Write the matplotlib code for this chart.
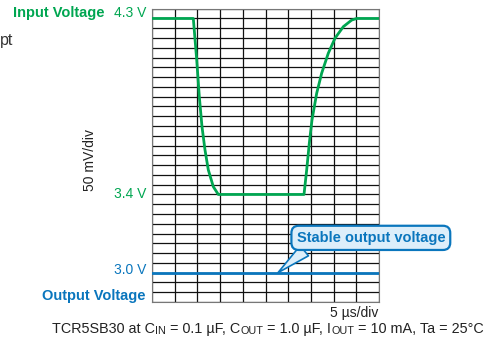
import numpy as np
import matplotlib
matplotlib.use("Agg")
import matplotlib.pyplot as plt
from matplotlib.transforms import blended_transform_factory

plt.rcParams['font.family'] = ['Liberation Sans', 'DejaVu Sans']

# waveform (time in us, voltage in V)
t_in = [0, 9.1, 9.85, 10.42, 11.01, 11.67, 12.40, 13.50, 14.60,
        33.48, 34.07, 34.65, 35.24, 36.27, 37.37, 38.83, 40.31, 42.14, 43.99, 45.1, 50]
v_in = [4.30, 4.30, 4.088, 3.90, 3.747, 3.628, 3.526, 3.44, 3.40,
        3.40, 3.525, 3.662, 3.781, 3.917, 4.02, 4.122, 4.199, 4.258, 4.292, 4.30, 4.30]
t_out = [0, 50]
v_out = [3.0, 3.0]

level_labels = ['4.3 V', '3.4 V', '3.0 V']

GREEN = '#00a651'
BLUE = '#0a76bd'
DARK = '#222222'

fig = plt.figure(figsize=(4.96, 3.38), dpi=100)
ax = fig.add_axes([152/496, 36/338, 227/496, 293.3/338])

ax.plot(t_in, v_in, color=GREEN, lw=2.0, solid_joinstyle='round', zorder=3)
ax.plot(t_out, v_out, color=BLUE, lw=2.0, zorder=3)

ax.set_xlim(0, 50)
ax.set_ylim(2.85, 4.35)
ax.set_xticks(np.arange(0, 50.1, 5))
ax.set_yticks(np.arange(2.85, 4.351, 0.05))
ax.grid(True, color='#111111', lw=0.9)
ax.tick_params(length=0, labelbottom=False, labelleft=False)
for s in ax.spines.values():
    s.set_color('#777777')
    s.set_linewidth(0.8)

# level labels to the left of the grid
tr = blended_transform_factory(ax.transAxes, ax.transData)
lab_colors = [GREEN, GREEN, BLUE]
lab_y = [4.326, 3.4, 3.014]
for y, txt, c in zip(lab_y, level_labels, lab_colors):
    ax.text(-0.026, y, txt, transform=tr, ha='right', va='center', color=c, fontsize=10)
ax.text(-0.21, 4.326, 'Input Voltage', transform=tr, ha='right', va='center',
        color=GREEN, fontsize=10.5, fontweight='bold')
ax.text(-0.03, 2.881, 'Output Voltage', transform=tr, ha='right', va='center',
        color=BLUE, fontsize=10.5, fontweight='bold')

ax.text(-0.272, 0.484, '50 mV/div', transform=ax.transAxes, rotation=90,
        ha='center', va='center', fontsize=10, color=DARK)

# callout
ax.annotate('Stable output voltage', xy=(27.75, 3.0), xytext=(48.2, 3.178),
            ha='center', va='center', color=BLUE, fontsize=10.5, fontweight='bold',
            annotation_clip=False, zorder=5,
            bbox=dict(boxstyle='round,pad=0.35,rounding_size=0.5', fc='#dceefa',
                      ec=BLUE, lw=1.6),
            arrowprops=dict(arrowstyle='wedge,tail_width=0.9,shrink_factor=0.5',
                            fc='#dceefa', ec=BLUE, lw=1.2, relpos=(0.1, 0.0),
                            shrinkA=0, shrinkB=0))

fig.text(378/496, 1 - 313/338, '5 \u00b5s/div', ha='right', va='center',
         fontsize=10, color=DARK)

fig.text(0, 1 - 41/338, 'pt', ha='left', va='center', fontsize=11.5, color='#333333')

# footer line, subscripts drawn as smaller caps
pieces = [('TCR5SB30 at C', 10.4), ('IN', 7.8), (' = 0.1 \u00b5F, C', 10.4), ('OUT', 7.8),
          (' = 1.0 \u00b5F, I', 10.4), ('OUT', 7.8), (' = 10 mA, Ta = 25\u00b0C', 10.4)]
prev = fig.text(52/496, 1 - 336/338, pieces[0][0], fontsize=pieces[0][1],
                ha='left', va='bottom', color=DARK)
for txt, fs in pieces[1:]:
    prev = ax.annotate(txt, xy=(1, 0), xycoords=prev, xytext=(0, 0),
                       textcoords='offset points', ha='left', va='bottom',
                       fontsize=fs, color=DARK, annotation_clip=False)

fig.savefig('out.png', dpi=100)
